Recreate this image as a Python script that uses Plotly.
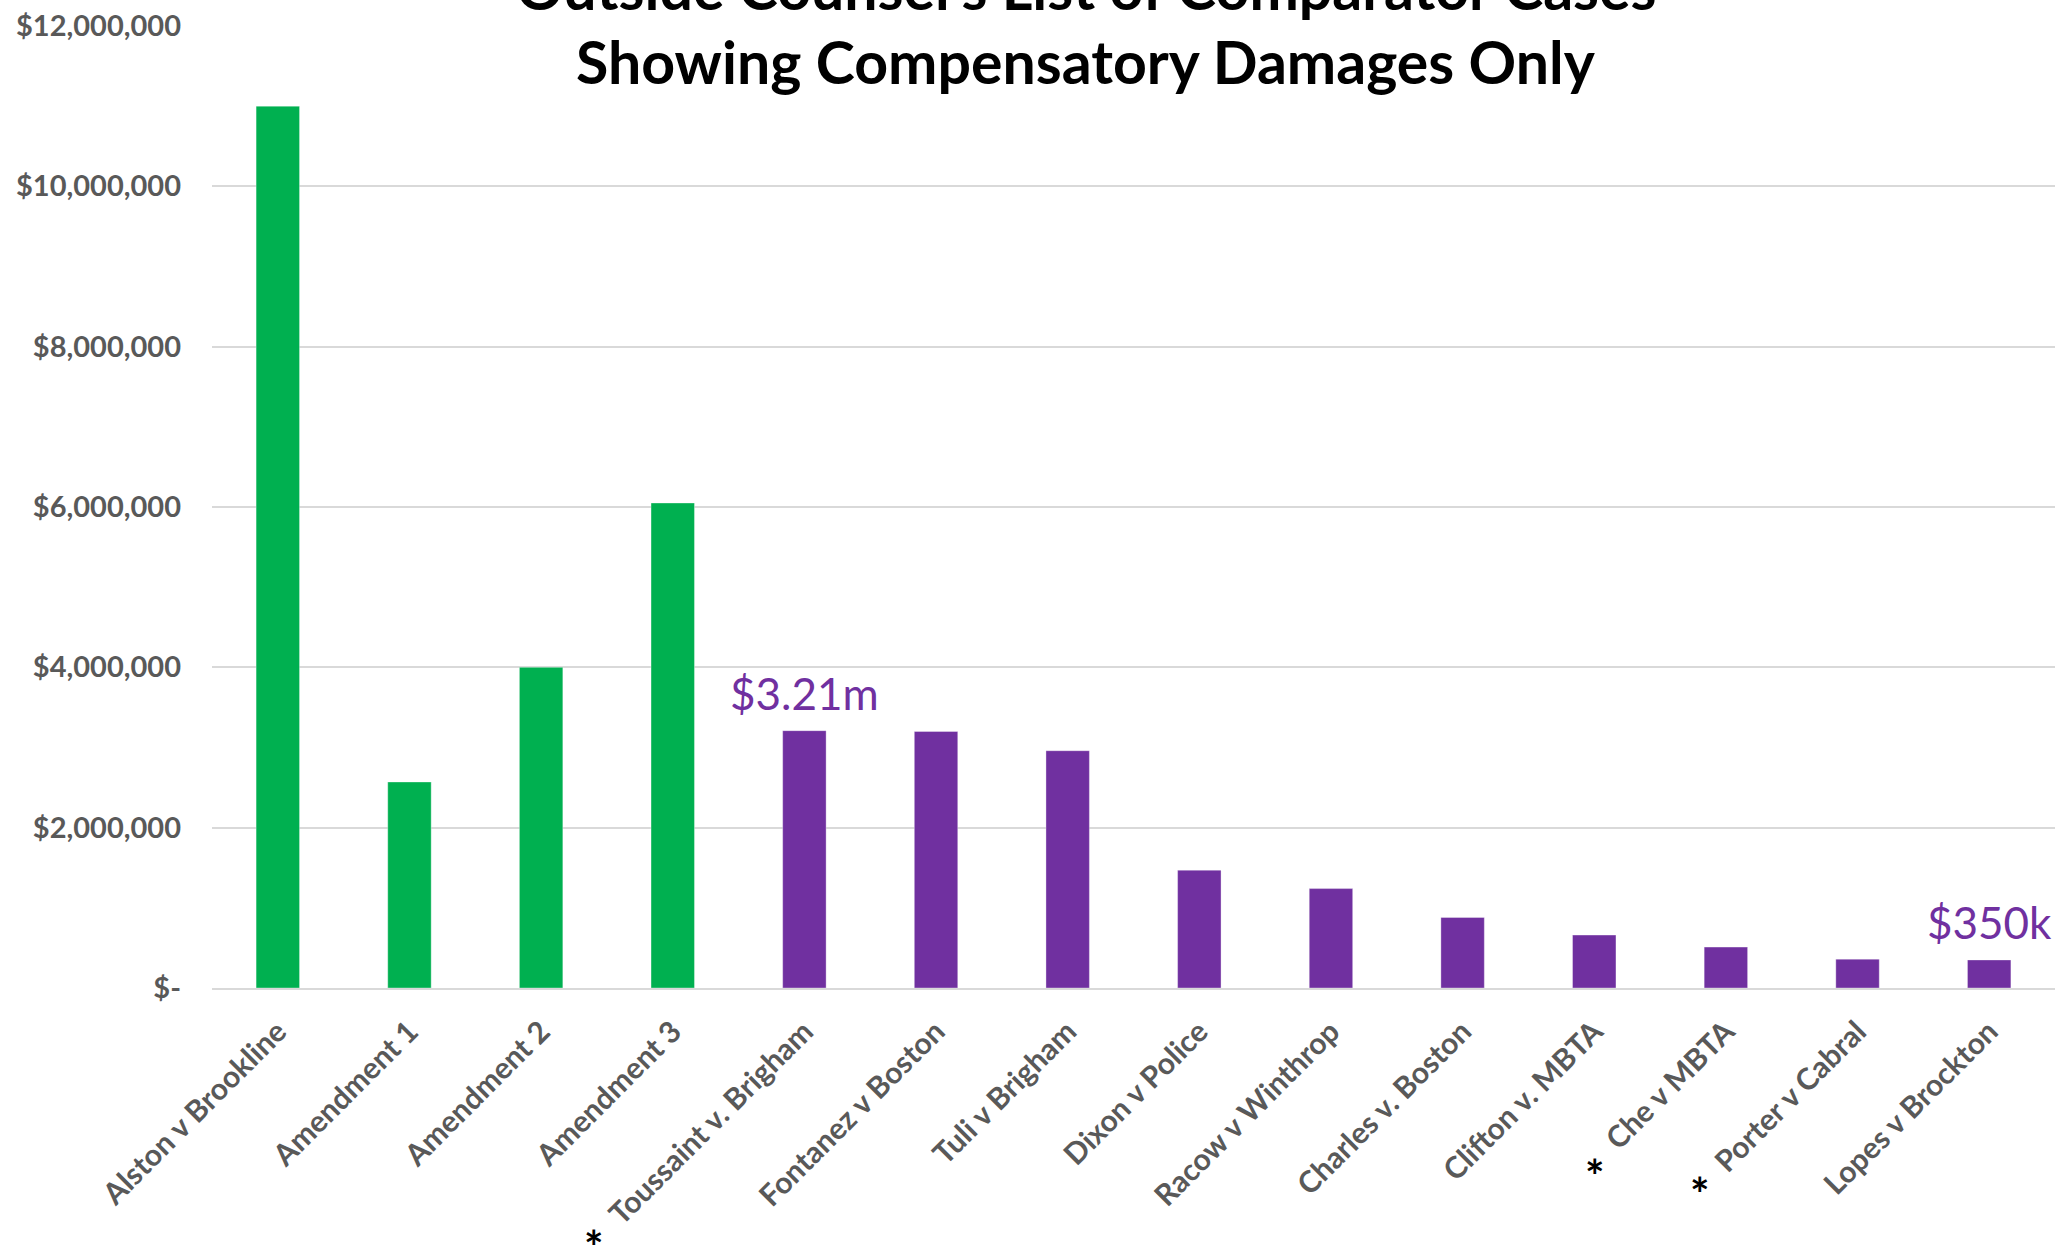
import plotly.graph_objects as go

# ---- data ----
categories = ["Alston v Brookline", "Amendment 1", "Amendment 2", "Amendment 3",
              "Toussaint v. Brigham", "Fontanez v Boston", "Tuli v Brigham",
              "Dixon v Police", "Racow v Winthrop", "Charles v. Boston",
              "Clifton v. MBTA", "Che v MBTA", "Porter v Cabral", "Lopes v Brockton"]
values = [11.0e6, 2.57e6, 4.0e6, 6.05e6,
          3.21e6, 3.2e6, 2.96e6,
          1.47e6, 1.24e6, 0.88e6,
          0.66e6, 0.51e6, 0.36e6, 0.35e6]
groups = ["plaintiff", "plaintiff", "plaintiff", "plaintiff",
          "comparator", "comparator", "comparator", "comparator", "comparator",
          "comparator", "comparator", "comparator", "comparator", "comparator"]
value_labels = {"Toussaint v. Brigham": "$3.21m", "Lopes v Brockton": "$350k"}
starred = ["Toussaint v. Brigham", "Che v MBTA", "Porter v Cabral"]
y_tickvals = [0, 2e6, 4e6, 6e6, 8e6, 10e6, 12e6]
y_ticktext = ["$-", "$2,000,000", "$4,000,000", "$6,000,000",
              "$8,000,000", "$10,000,000", "$12,000,000"]
title_lines = ["Outside Counsel's List of Comparator Cases",
               "Showing Compensatory Damages Only"]

# ---- styles ----
GREEN = "#00B050"
PURPLE = "#7030A0"
GRID = "#D9D9D9"
TICK = "#595959"
FONT = "Lato"
color_map = {"plaintiff": GREEN, "comparator": PURPLE}

fig = go.Figure()
fig.add_trace(go.Bar(
    x=categories, y=values,
    marker=dict(color=[color_map[g] for g in groups],
                line=dict(width=1, color="rgba(255,255,255,0.35)")),
    width=0.33, showlegend=False, hoverinfo="x+y",
))

annotations = []
# value labels above bars
for cat, txt in value_labels.items():
    annotations.append(dict(
        x=cat, y=values[categories.index(cat)], xref="x", yref="y",
        text=txt, showarrow=False, yanchor="bottom", yshift=10,
        font=dict(family=FONT, size=44, color=PURPLE)))

# asterisks beside some category labels
star_offsets = {"Toussaint v. Brigham": (-210, -258),
                "Che v MBTA": (-131, -187),
                "Porter v Cabral": (-158, -205)}
for cat in starred:
    dx, dy = star_offsets[cat]
    annotations.append(dict(
        x=cat, y=0, xref="x", yref="paper", text="<b>*</b>",
        showarrow=False, xshift=dx, yshift=dy, yanchor="middle",
        font=dict(family=FONT, size=46, color="black")))

# title lines (first line runs off the top edge, as in the original)
for line, ypos in zip(title_lines, [1.0405, 0.9627]):
    annotations.append(dict(
        x=0.474, y=ypos, xref="paper", yref="paper", text=f"<b>{line}</b>",
        showarrow=False, xanchor="center", yanchor="middle",
        font=dict(family=FONT, size=59, color="black")))

fig.update_layout(
    width=2062, height=1255,
    margin=dict(l=212, r=7, t=24, b=267),
    paper_bgcolor="white", plot_bgcolor="white",
    annotations=annotations,
    shapes=[dict(type="rect", xref="paper", yref="paper",
                 x0=0.074, x1=0.873, y0=0.984, y1=1.05,
                 fillcolor="white", line=dict(width=0), layer="above")],
    xaxis=dict(
        type="category", showgrid=False, showline=True, linecolor=GRID,
        linewidth=2, ticks="", tickangle=-45, ticklabelstandoff=12,
        tickfont=dict(family=FONT, size=30, color=TICK, weight="bold"),
    ),
    yaxis=dict(
        range=[0, 12e6], tickvals=y_tickvals, ticktext=y_ticktext,
        showgrid=True, gridcolor=GRID, gridwidth=2, zeroline=False,
        showline=False, ticks="", ticklabelstandoff=30,
        tickfont=dict(family=FONT, size=29, color=TICK, weight="bold"),
    ),
)

fig.write_html("out.html",
               config={"displayModeBar": False},
               post_script="document.body.style.margin='0px';"
                           "document.body.style.overflow='hidden';")
